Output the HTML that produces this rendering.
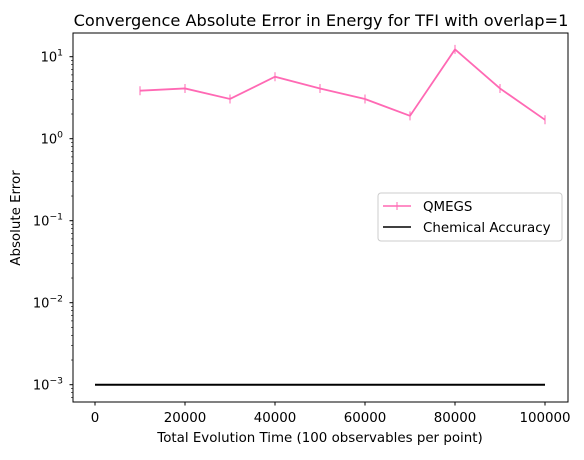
<!DOCTYPE html>
<html><head><meta charset="utf-8"><style>
body{margin:0;background:#fff;font-family:"Liberation Sans","DejaVu Sans",sans-serif}
text{font-family:"DejaVu Sans","Liberation Sans",sans-serif;fill:#000}
</style></head><body>
<svg id="c" width="584" height="455" viewBox="0 0 584 455" xmlns="http://www.w3.org/2000/svg">
<rect width="584" height="455" fill="#fff"/>
<text x="321" y="26" font-size="16.2" text-anchor="middle">Convergence Absolute Error in Energy for TFI with overlap=1</text>
<g id="axes"></g>
<g id="marks"></g>
<rect x="73" y="33" width="495" height="369" fill="none" stroke="#000" stroke-width="1"/>
<text x="320" y="442" font-size="13.4" text-anchor="middle">Total Evolution Time (100 observables per point)</text>
<text transform="translate(20,218) rotate(-90)" font-size="13.4" text-anchor="middle">Absolute Error</text>
<g>
<rect x="378" y="193" width="184" height="48" rx="3" fill="#fff" stroke="#ccc"/>
<line x1="383" y1="206" x2="411" y2="206" stroke="#ff69b4" stroke-width="1.5"/>
<line x1="397" y1="202" x2="397" y2="210" stroke="#ff69b4" stroke-width="1"/>
<text x="423" y="211" font-size="13.4">QMEGS</text>
<line x1="383" y1="227" x2="411" y2="227" stroke="#000" stroke-width="1.5"/>
<text x="423" y="232" font-size="13.4">Chemical Accuracy</text>
</g>
</svg>
<script>
const xValues=[10000,20000,30000,40000,50000,60000,70000,80000,90000,100000];
const qmegs=[3.85,4.1,3.05,5.7,4.1,3.05,1.9,12.3,4.1,1.7];
const chemX=[0,100000];
const chemAcc=[0.001,0.001];
const xTicks=[0,20000,40000,60000,80000,100000];
const yTickExp=[-3,-2,-1,0,1];
const NS="http://www.w3.org/2000/svg";
const sx=v=>95+v*0.0045;
const sy=v=>138.7-Math.log10(v)*82;
function mk(t,a,p){const e=document.createElementNS(NS,t);for(const k in a)e.setAttribute(k,a[k]);p.appendChild(e);return e;}
const ax=document.getElementById('axes'),mg=document.getElementById('marks');
xTicks.forEach(v=>{
 const l=mk('line',{x1:sx(v),x2:sx(v),y1:402,y2:405.5,stroke:'#000'},ax);
 
 
 const t=mk('text',{x:sx(v),y:422,'font-size':13.4,'text-anchor':'middle'},ax);t.textContent=v;
 
 
});
yTickExp.forEach(e=>{
 const y=sy(Math.pow(10,e));
 const l=mk('line',{x1:69.5,x2:73,y1:y,y2:y,stroke:'#000'},ax);
 
 
 const t=mk('text',{x:63,y:y+5,'font-size':13,'text-anchor':'end'},ax);
 
 
 t.textContent='10';
 const s=mk('tspan',{dy:-6,'font-size':9.2},t);s.textContent=e<0?'\u2212'+(-e):''+e;
});
for(let e=-4;e<=1;e++)for(let m=2;m<=9;m++){
 const v=m*Math.pow(10,e),y=sy(v);
 if(y<33||y>402)continue;
 const l=mk('line',{x1:71,x2:73,y1:y,y2:y,stroke:'#000','stroke-width':0.6},ax);
 
 
}
const ch=mk('polyline',{points:chemX.map((x,i)=>sx(x)+','+sy(chemAcc[i])).join(' '),fill:'none',stroke:'#000','stroke-width':2},mg);


const pl=mk('polyline',{points:xValues.map((x,i)=>sx(x)+','+sy(qmegs[i])).join(' '),fill:'none',stroke:'#ff69b4','stroke-width':1.8},mg);


xValues.forEach((x,i)=>{
 const y=sy(qmegs[i]);
 const l=mk('line',{x1:sx(x),x2:sx(x),y1:y-4.5,y2:y+4.5,stroke:'#ff69b4','stroke-width':1},mg);
 
 
});
</script>
</body></html>
